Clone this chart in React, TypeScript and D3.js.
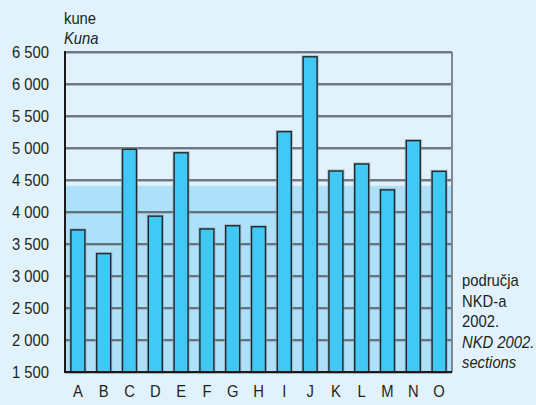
import * as d3 from "d3";

const width = 536;
const height = 405;

// sections (NKD 2002.)
const categories = ["A", "B", "C", "D", "E", "F", "G", "H", "I", "J", "K", "L", "M", "N", "O"];
// average monthly net wage, kune
const values = [3720, 3350, 4980, 3935, 4925, 3735, 3785, 3770, 5255, 6425, 4640, 4750, 4345, 5115, 4635];
// national average shown as shaded band
const average = 4410;
const yTicks = [1500, 2000, 2500, 3000, 3500, 4000, 4500, 5000, 5500, 6000, 6500];
const rightLabel = ["područja", "NKD-a", "2002.", "NKD 2002.", "sections"];

const margin = { top: 52, right: 84, bottom: 33, left: 65 };
const font = "'Liberation Sans', Arial, sans-serif";

const fmt = (v: number) => d3.format(",")(v).replace(",", " ");

// narrow-ish text: the original uses a condensed face
type LabelProps = {
  x: number;
  y: number;
  anchor?: "start" | "middle" | "end";
  italic?: boolean;
  dy?: string;
  children: string;
};
const Label = ({ x, y, anchor = "start", italic = false, dy, children }: LabelProps) => (
  <text
    transform={`translate(${x},${y}) scale(0.87,1)`}
    textAnchor={anchor}
    dy={dy}
    fontSize={17}
    fill="#231f20"
    fontStyle={italic ? "italic" : "normal"}
  >
    {children}
  </text>
);

const App = () => {
  const x = d3
    .scaleBand()
    .domain(categories)
    .range([margin.left, width - margin.right])
    .paddingInner(0.46)
    .paddingOuter(0.23);
  const y = d3
    .scaleLinear()
    .domain([1500, 6500])
    .range([height - margin.bottom, margin.top]);

  const x0 = margin.left;
  const x1 = width - margin.right;
  const yBase = y(1500);

  return (
    <svg
      width={width}
      height={height}
      style={{ position: "absolute", left: 0, top: 0 }}
      fontFamily={font}
    >
      <rect width={width} height={height} fill="#e1f2fc" />
      {/* average band */}
      <rect x={x0} y={y(average)} width={x1 - x0} height={yBase - y(average)} fill="#aee0f9" />

      {/* grid */}
      {yTicks.map(t => (
        <g key={t}>
          <line x1={x0} x2={x1} y1={y(t) + 1.2} y2={y(t) + 1.2} stroke="#9aa4ad" strokeWidth={1} />
          <line x1={x0} x2={x1} y1={y(t)} y2={y(t)} stroke="#4a535c" strokeWidth={1.4} />
        </g>
      ))}

      {/* bars */}
      {values.map((v, i) => {
        const bx = x(categories[i]) as number;
        return (
          <g key={categories[i]}>
            <rect
              x={bx}
              y={y(v)}
              width={x.bandwidth()}
              height={yBase - y(v)}
              fill="none"
              stroke="#8e979f"
              strokeOpacity={0.6}
              strokeWidth={3.2}
            />
            <rect
              x={bx}
              y={y(v)}
              width={x.bandwidth()}
              height={yBase - y(v)}
              fill="#42c8f4"
              stroke="#1f2a30"
              strokeWidth={1.4}
            />
          </g>
        );
      })}

      {/* frame */}
      <line x1={x1} x2={x1} y1={margin.top} y2={yBase} stroke="#7f8890" strokeWidth={2} />
      <line x1={x0} x2={x0} y1={margin.top - 1} y2={yBase + 1} stroke="#1a1a1a" strokeWidth={2} />
      <line x1={x0} x2={x1} y1={yBase} y2={yBase} stroke="#1a1a1a" strokeWidth={2} />

      {/* y labels */}
      {yTicks.map(t => (
        <Label key={t} x={49} y={y(t)} dy="0.36em" anchor="end">
          {fmt(t)}
        </Label>
      ))}

      {/* x labels */}
      {categories.map(c => (
        <Label key={c} x={(x(c) as number) + x.bandwidth() / 2} y={397} anchor="middle">
          {c}
        </Label>
      ))}

      <Label x={64} y={24}>kune</Label>
      <Label x={64} y={44} italic>Kuna</Label>

      {rightLabel.map((s, i) => (
        <Label key={s} x={462} y={286 + i * 20.5} italic={i >= 3}>
          {s}
        </Label>
      ))}
    </svg>
  );
};

export default App;
